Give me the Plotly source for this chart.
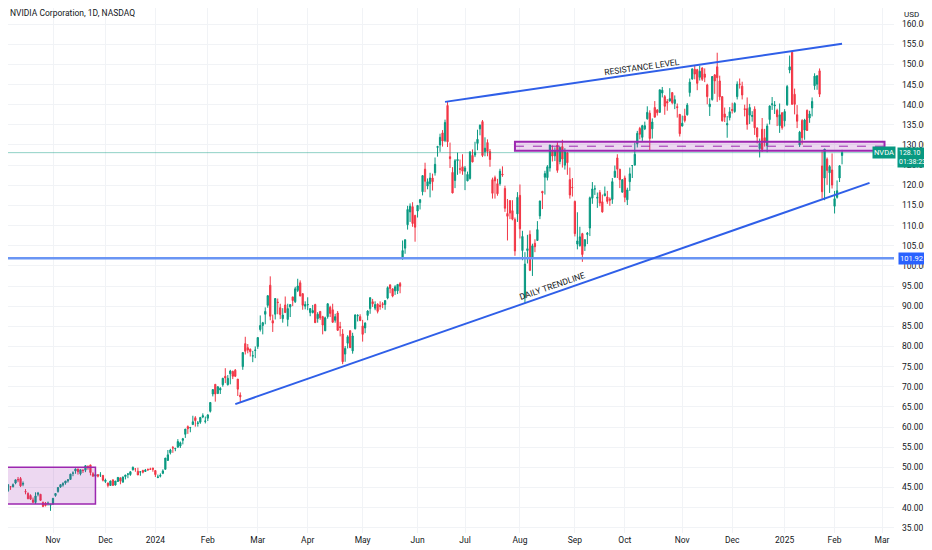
import pandas as pd
import plotly.graph_objects as go

# NVDA daily candles, Oct 2023 .. 6 Feb 2025 (one row per month)
HOLIDAYS = ["2023-11-23", "2023-12-25", "2024-01-01", "2024-01-15", "2024-02-19",
            "2024-03-29", "2024-05-27", "2024-06-19", "2024-07-04", "2024-09-02",
            "2024-11-28", "2024-12-25", "2025-01-01", "2025-01-09", "2025-01-20",
            "2025-02-17"]

open_ = [
    44.0, 44.4, 43.7, 44.0, 44.2, 45.2, 45.2, 46.1, 47.0, 47.2, 45.8, 44.0, 43.5, 43.0, 41.9, 41.3, 43.3, 43.3, 41.3, 41.1, 41.0, 40.6,
    40.9, 43.0, 44.0, 45.1, 45.6, 46.1, 46.6, 47.0, 48.5, 49.1, 49.6, 48.4, 49.3, 49.3, 50.2, 50.6, 48.4, 47.8, 48.2, 48.1, 48.0,
    46.5, 46.1, 45.5, 46.9, 45.6, 46.5, 47.4, 46.3, 47.7, 48.3, 48.2, 49.4, 49.6, 49.0, 48.8, 49.2, 48.97, 49.5, 49.6, 49.8,
    49.2, 47.5, 47.8, 48.5, 49.5, 51.7, 53.6, 54.9, 54.6, 55.0, 55.3, 56.7, 58.2, 60.1, 59.8, 60.6, 62.3, 60.9, 61.2, 62.5, 61.4,
    62.2, 63.9, 68.2, 70.6, 68.3, 69.2, 70.5, 72.6, 70.5, 73.2, 73.8, 74.1, 71.9, 67.9, 75.0, 80.7, 79.7, 79.3, 77.6, 79.0,
    80.0, 84.2, 85.2, 88.0, 90.2, 95.2, 86.4, 88.0, 91.0, 89.6, 86.9, 90.3, 86.7, 89.8, 92.3, 91.1, 93.9, 95.8, 93.1, 90.0,
    90.3, 88.4, 88.4, 90.4, 86.9, 88.7, 87.4, 83.9, 87.4, 89.7, 89.1, 86.5, 88.3, 84.9, 83.1, 78.1, 80.8, 83.9, 78.9, 84.4, 87.6, 87.4,
    85.1, 84.6, 87.7, 89.4, 91.1, 89.5, 90.5, 90.2, 90.6, 90.4, 92.0, 95.3, 94.3, 93.8, 93.8, 95.6, 102.0, 104.4, 110.2, 113.4, 114.7, 112.5,
    113.6, 115.7, 118.4, 124.0, 119.8, 120.4, 121.8, 123.1, 129.4, 130.0, 133.0, 131.1, 139.8, 127.1, 123.2, 121.2, 126.1, 124.1, 124.6,
    123.5, 121.1, 121.7, 127.4, 127.5, 130.4, 134.0, 135.8, 128.3, 130.6, 128.4, 121.4, 121.9, 120.4, 120.4, 122.8, 119.2, 113.0, 116.2, 113.7, 111.5, 112.9,
    117.5, 103.8, 92.1, 103.8, 107.8, 102.0, 105.6, 106.3, 112.4, 118.5, 122.0, 121.9, 124.3, 128.4, 127.3, 130.0, 125.9, 129.6, 125.0, 128.1, 121.4, 119.5,
    116.0, 105.4, 105.0, 108.0, 104.9, 107.8, 109.4, 116.8, 119.1, 116.8, 118.2, 115.9, 117.4, 117.1, 116.6, 116.5, 122.0, 126.8, 124.0, 118.3,
    121.8, 116.4, 120.9, 124.9, 125.0, 130.3, 134.1, 131.9, 134.0, 136.5, 137.9, 134.0, 139.3, 138.7, 138.1, 142.9, 142.0, 140.8, 140.9, 143.0, 140.3, 139.5, 137.6,
    134.7, 137.2, 137.5, 143.0, 146.4, 148.8, 148.7, 146.8, 149.1, 147.6, 144.9, 139.5, 141.3, 147.4, 149.4, 145.9, 142.0, 137.7, 135.0, 136.8,
    138.8, 138.3, 142.0, 145.1, 144.6, 139.0, 139.0, 137.4, 137.1, 138.9, 134.2, 129.1, 133.9, 131.8, 129.8, 136.3, 140.0, 139.7, 138.6, 134.8, 138.0,
    136.0, 140.0, 148.6, 153.0, 142.6, 137.5, 130.0, 136.1, 133.7, 138.6, 136.7, 139.2, 144.7, 145.1, 148.4, 124.8, 121.8, 126.5, 123.1, 123.8,
    114.8, 117.0, 121.8, 127.4,
]
high = [
    44.9, 44.6, 44.1, 45.2, 45.8, 45.3, 46.0, 46.9, 47.6, 47.6, 46.5, 44.6, 43.8, 43.3, 42.5, 43.8, 43.9, 43.4, 41.5, 41.4, 41.5, 40.9,
    42.4, 43.6, 45.0, 45.8, 46.3, 46.6, 47.1, 48.4, 49.0, 49.7, 49.6, 49.4, 49.5, 50.5, 50.5, 50.6, 48.8, 48.5, 48.2, 48.8, 48.1,
    47.2, 46.2, 46.7, 46.9, 46.6, 47.6, 47.4, 47.7, 48.1, 48.6, 49.0, 50.2, 49.7, 49.9, 48.9, 49.4, 49.6, 49.7, 49.9, 49.9,
    49.3, 48.2, 48.5, 49.5, 52.3, 54.3, 54.6, 55.3, 54.8, 57.0, 56.4, 57.3, 59.5, 60.4, 60.0, 62.8, 62.7, 61.5, 62.4, 63.4, 62.6,
    63.2, 66.2, 69.4, 70.6, 70.1, 69.9, 72.2, 74.6, 72.9, 74.2, 74.0, 74.4, 71.9, 68.6, 78.5, 82.4, 80.6, 79.5, 78.9, 80.0,
    82.3, 87.7, 86.1, 89.7, 92.7, 97.4, 87.9, 92.0, 91.9, 90.6, 89.5, 92.4, 90.6, 90.4, 92.3, 94.8, 96.8, 96.4, 93.2, 91.2,
    92.2, 89.5, 90.3, 90.6, 88.5, 88.7, 87.6, 87.4, 90.7, 90.1, 90.6, 88.1, 88.8, 86.1, 84.3, 80.1, 82.8, 84.0, 83.4, 88.0, 88.0, 88.0,
    86.6, 86.0, 89.0, 92.2, 91.8, 91.2, 90.7, 91.2, 91.0, 91.4, 94.9, 95.3, 94.4, 95.2, 95.4, 96.0, 106.3, 106.5, 114.9, 115.5, 115.8, 112.7,
    115.0, 116.6, 122.4, 125.6, 121.7, 123.1, 122.9, 126.9, 129.8, 132.8, 133.7, 136.3, 140.8, 130.6, 124.5, 126.5, 128.1, 126.4, 127.7,
    124.8, 123.4, 128.3, 128.9, 130.8, 133.8, 135.1, 136.2, 131.9, 131.4, 129.0, 121.9, 122.4, 121.6, 124.1, 124.7, 119.9, 116.6, 116.2, 116.3, 112.0, 118.3,
    120.2, 108.7, 103.4, 107.7, 108.8, 105.5, 106.6, 111.1, 116.2, 118.6, 123.6, 125.0, 130.0, 129.9, 129.4, 130.8, 129.6, 131.3, 129.2, 128.3, 124.4, 121.8,
    116.2, 113.3, 109.7, 108.2, 106.6, 108.4, 117.2, 120.8, 120.0, 118.2, 118.8, 117.7, 119.7, 118.6, 117.0, 121.8, 124.9, 127.7, 124.0, 121.5,
    122.4, 119.4, 124.4, 125.0, 130.6, 133.5, 134.5, 135.0, 135.8, 139.6, 138.6, 136.6, 140.9, 138.9, 143.7, 144.4, 142.4, 141.4, 144.1, 143.1, 142.3, 140.3, 137.6,
    137.3, 139.0, 140.4, 146.5, 148.9, 149.8, 148.9, 149.7, 149.3, 149.0, 145.2, 141.6, 147.1, 147.6, 152.9, 147.2, 142.1, 139.3, 137.2, 139.4,
    140.5, 140.6, 145.8, 146.5, 145.7, 140.0, 141.8, 140.2, 138.4, 139.6, 134.4, 131.6, 136.7, 134.0, 135.3, 139.8, 141.9, 140.9, 139.0, 140.3, 138.1,
    138.9, 144.9, 152.2, 153.1, 144.0, 139.9, 133.5, 136.4, 136.5, 138.8, 138.5, 141.8, 147.8, 147.2, 149.0, 128.4, 129.0, 126.9, 125.0, 127.9,
    118.6, 121.2, 125.0, 128.8,
]
low = [
    43.5, 43.1, 43.1, 43.8, 43.9, 44.4, 45.0, 45.8, 46.3, 45.1, 45.3, 43.3, 42.1, 41.9, 41.3, 40.9, 42.8, 41.7, 40.1, 40.3, 40.5, 39.2,
    40.7, 42.7, 43.7, 44.9, 45.2, 45.7, 46.2, 46.9, 47.8, 48.4, 48.2, 48.0, 48.6, 48.8, 49.4, 48.0, 47.7, 47.6, 47.5, 47.6, 46.5,
    46.1, 45.0, 45.4, 45.5, 45.5, 46.4, 45.8, 46.3, 47.0, 47.3, 47.9, 49.2, 48.9, 48.1, 47.9, 48.5, 48.96, 49.1, 49.4, 48.9,
    47.6, 47.3, 47.5, 48.3, 49.5, 51.7, 53.2, 53.6, 54.0, 54.9, 54.8, 55.7, 57.3, 58.3, 58.7, 60.6, 60.1, 60.1, 60.8, 62.2, 60.9,
    61.5, 63.6, 67.6, 66.3, 68.3, 68.2, 70.0, 70.9, 70.3, 70.6, 71.9, 72.4, 67.7, 66.2, 74.2, 78.0, 78.3, 77.5, 76.1, 77.1,
    79.4, 83.7, 83.0, 85.5, 89.6, 86.5, 83.6, 86.7, 88.0, 86.8, 85.9, 88.4, 85.0, 87.3, 90.0, 90.8, 93.5, 92.5, 89.1, 89.2,
    89.0, 87.5, 88.2, 85.9, 85.9, 86.6, 83.0, 83.8, 86.9, 87.3, 85.9, 85.9, 83.9, 82.5, 75.6, 76.2, 79.5, 79.6, 78.2, 84.2, 86.2, 86.3,
    81.2, 83.3, 86.5, 88.1, 89.8, 89.0, 88.2, 89.1, 89.5, 89.1, 91.7, 93.2, 92.2, 92.8, 93.0, 93.2, 101.5, 103.0, 109.0, 110.9, 109.7, 106.0,
    112.0, 114.0, 117.5, 118.3, 119.0, 117.0, 118.7, 122.4, 127.1, 128.3, 129.6, 130.7, 129.5, 124.3, 118.0, 119.3, 122.6, 122.9, 122.6,
    118.8, 121.0, 121.4, 125.7, 127.0, 128.7, 132.4, 127.0, 127.2, 127.2, 124.6, 116.7, 116.7, 117.4, 119.9, 122.1, 113.4, 106.3, 111.6, 111.3, 102.5, 110.9,
    106.8, 101.4, 90.7, 100.6, 98.7, 97.5, 103.4, 106.3, 111.6, 114.1, 117.7, 121.2, 123.4, 125.9, 126.0, 123.1, 125.2, 124.4, 123.9, 122.6, 116.7, 117.2,
    107.3, 104.1, 104.8, 101.0, 103.7, 105.4, 107.4, 115.4, 117.6, 114.4, 114.8, 113.2, 117.3, 115.4, 114.9, 115.4, 121.9, 121.8, 119.3, 118.2,
    115.8, 115.1, 118.6, 121.8, 125.0, 129.4, 131.4, 131.0, 133.7, 136.3, 128.7, 131.6, 136.9, 137.3, 138.0, 141.8, 137.5, 138.5, 140.8, 140.1, 138.9, 136.8, 132.1,
    134.6, 135.6, 137.3, 142.0, 146.2, 146.3, 143.6, 146.0, 145.9, 145.6, 140.1, 137.2, 141.0, 142.7, 140.7, 141.1, 135.8, 135.7, 131.8, 136.1,
    137.8, 138.0, 141.3, 144.0, 141.3, 137.1, 133.8, 135.2, 135.8, 132.5, 130.4, 126.9, 128.3, 129.6, 128.2, 135.1, 138.7, 137.7, 134.7, 133.0, 133.8,
    134.6, 139.7, 147.8, 140.0, 137.6, 134.2, 129.5, 130.1, 131.3, 133.5, 135.5, 137.1, 143.7, 143.7, 141.9, 116.7, 116.3, 120.1, 118.1, 119.2,
    113.0, 116.7, 120.8, 125.2,
]
close = [
    44.75, 43.5, 44.0, 44.6, 45.7, 45.2, 45.7, 46.9, 46.9, 45.4, 46.0, 43.9, 42.2, 42.1, 41.3, 42.9, 43.6, 41.8, 40.3, 40.5, 41.1, 40.8,
    42.3, 43.5, 45.0, 45.7, 45.96, 46.6, 46.9, 48.3, 48.6, 49.6, 48.9, 49.4, 49.2, 50.4, 49.9, 48.7, 47.8, 48.2, 47.8, 48.1, 46.8,
    46.8, 45.5, 46.6, 45.5, 46.6, 47.5, 46.6, 47.6, 48.1, 48.3, 48.9, 50.0, 49.6, 48.1, 48.9, 48.8, 49.3, 49.4, 49.5, 49.5,
    48.2, 47.6, 48.0, 49.1, 52.3, 53.1, 54.3, 54.8, 54.7, 56.4, 56.1, 57.1, 59.5, 59.6, 59.9, 61.3, 61.6, 61.0, 62.4, 62.8, 61.5,
    63.0, 66.1, 69.3, 68.2, 70.0, 69.6, 72.1, 72.2, 72.1, 73.9, 72.6, 72.6, 69.4, 67.5, 78.5, 78.8, 79.1, 78.7, 77.7, 79.1,
    82.2, 85.2, 85.9, 88.7, 92.6, 87.5, 85.8, 91.9, 90.9, 87.9, 87.8, 88.4, 89.4, 90.4, 91.4, 94.3, 95.0, 92.5, 90.2, 90.4,
    90.4, 89.4, 88.9, 85.9, 88.0, 87.1, 85.3, 87.1, 90.6, 88.2, 86.0, 87.4, 84.0, 84.7, 76.2, 79.5, 82.4, 79.7, 82.6, 87.8, 87.7, 86.4,
    83.0, 85.8, 88.8, 92.1, 90.6, 90.4, 88.7, 89.9, 90.4, 91.4, 94.6, 94.4, 92.5, 94.8, 95.4, 94.95, 103.8, 106.5, 114.0, 114.8, 110.5, 109.6,
    115.0, 116.4, 122.4, 121.0, 120.9, 121.8, 120.9, 125.2, 129.6, 131.9, 131.0, 135.6, 130.8, 126.6, 118.1, 126.1, 126.4, 124.0, 123.5,
    124.3, 122.7, 128.3, 125.8, 128.2, 131.4, 134.9, 127.4, 129.2, 128.4, 126.4, 118.0, 121.1, 117.9, 123.5, 122.6, 114.3, 112.3, 113.1, 111.6, 103.7, 117.0,
    109.2, 107.3, 100.45, 104.25, 98.9, 104.97, 104.75, 109.0, 116.1, 118.1, 122.9, 124.6, 130.0, 127.25, 128.5, 123.7, 129.4, 126.5, 128.3, 125.6, 117.6, 119.4,
    108.0, 106.2, 107.2, 102.8, 106.5, 108.1, 116.9, 119.1, 119.1, 117.0, 115.6, 113.4, 117.9, 116.0, 116.3, 120.9, 123.5, 124.0, 121.4, 121.4,
    117.0, 118.85, 122.85, 124.9, 127.7, 132.9, 132.65, 134.8, 134.8, 138.1, 131.6, 135.7, 136.9, 138.0, 143.7, 143.6, 139.6, 140.4, 141.5, 140.5, 141.25, 139.3, 132.8,
    135.4, 136.05, 139.9, 145.6, 148.9, 147.6, 145.3, 148.3, 146.3, 146.8, 142.0, 140.15, 147.0, 145.9, 146.7, 141.95, 136.0, 136.9, 135.3, 138.25,
    138.6, 140.3, 145.1, 145.06, 142.4, 138.8, 135.1, 139.3, 137.3, 134.25, 132.0, 130.4, 128.9, 130.7, 134.7, 139.7, 140.2, 139.9, 137.0, 137.5, 134.3,
    138.3, 144.5, 149.4, 140.1, 140.1, 135.9, 133.2, 131.8, 136.2, 133.6, 137.7, 140.8, 147.1, 147.2, 142.6, 118.4, 129.0, 123.7, 124.65, 120.07,
    116.66, 118.65, 124.83, 128.1,
]

last_price = 128.10
countdown = "01:38:23"
support_level = 101.92

# drawings: (date, price)
resistance_line = [("2024-06-18", 140.7), ("2025-02-06", 155.1)]
trend_line = [("2024-02-16", 65.7), ("2025-02-24", 120.6)]
left_box = ("2023-09-20", "2023-11-27", 40.9, 50.0)
zone = ("2024-07-30", "2025-03-04", 128.6, 130.8)

n = len(close)
assert len(open_) == len(high) == len(low) == n, (len(open_), len(high), len(low), n)

days = pd.bdate_range("2023-10-02", "2025-03-31", freq="C", holidays=HOLIDAYS)
pos = {d.strftime("%Y-%m-%d"): i for i, d in enumerate(days)}
pos["2023-09-20"] = -8


def px(d):
    return pos[d]


tickvals, ticktext = [], []
prev = days[0].month
for i, d in enumerate(days):
    if d.month != prev:
        tickvals.append(i)
        ticktext.append(str(d.year) if d.month == 1 else d.strftime("%b"))
    prev = d.month

FONT = "Roboto, Liberation Sans, Arial"
TXT = "#131722"
BLUE = "#2f5fe8"
PURPLE = "#9c27b0"

W, H, R = 924, 542, 38

fig = go.Figure()
fig.add_trace(go.Candlestick(
    x=list(range(n)), open=open_, high=high, low=low, close=close,
    increasing=dict(line=dict(color="#089981", width=1), fillcolor="#089981"),
    decreasing=dict(line=dict(color="#F23645", width=1), fillcolor="#F23645"),
    whiskerwidth=0, hoverinfo="skip", showlegend=False))

# price line and horizontal support
fig.add_shape(type="line", xref="paper", x0=0, x1=1, y0=last_price, y1=last_price,
              line=dict(color="rgba(8,153,129,0.45)", width=1), layer="above")
fig.add_shape(type="line", xref="paper", x0=0, x1=1, y0=support_level, y1=support_level,
              line=dict(color="#6a95f4", width=2.5), layer="above")

# boxes
fig.add_shape(type="rect", x0=px(left_box[0]), x1=px(left_box[1]), y0=left_box[2], y1=left_box[3],
              line=dict(color=PURPLE, width=1.5), fillcolor="rgba(156,39,176,0.18)", layer="above")
fig.add_shape(type="rect", x0=px(zone[0]), x1=px(zone[1]), y0=zone[2], y1=zone[3],
              line=dict(color=PURPLE, width=2), fillcolor="rgba(156,39,176,0.18)", layer="above")
mid = (zone[2] + zone[3]) / 2
fig.add_shape(type="line", x0=px(zone[0]), x1=px(zone[1]), y0=mid, y1=mid,
              line=dict(color=PURPLE, width=1, dash="dash"), layer="above")

# trend lines
for (d0, p0), (d1, p1) in (resistance_line, trend_line):
    fig.add_shape(type="line", x0=px(d0), y0=p0, x1=px(d1), y1=p1,
                  line=dict(color=BLUE, width=2), layer="above")

fig.add_annotation(x=px("2024-10-10"), y=149.4, text="RESISTANCE LEVEL", showarrow=False,
                   textangle=-8, font=dict(size=8.5, color=TXT, family=FONT))
fig.add_annotation(x=px("2024-08-20"), y=95.0, text="DAILY TRENDLINE", showarrow=False,
                   textangle=-19, font=dict(size=8.5, color=TXT, family=FONT))

# header / axis badges
fig.add_annotation(xref="paper", yref="paper", x=0, y=1, xanchor="left", yanchor="top",
                   xshift=0, yshift=2, text="NVIDIA Corporation, 1D, NASDAQ", showarrow=False,
                   font=dict(size=8.5, color=TXT, family=FONT))
fig.add_annotation(xref="paper", yref="paper", x=1, y=1, xanchor="left", yanchor="top",
                   xshift=8, yshift=0, text="USD", showarrow=False,
                   font=dict(size=8, color=TXT, family=FONT))
fig.add_annotation(xref="paper", y=last_price, x=1, xanchor="right", xshift=2,
                   text="NVDA", showarrow=False, bgcolor="#089981", borderpad=1,
                   font=dict(size=7.5, color="white", family=FONT))
fig.add_annotation(xref="paper", y=last_price, x=1, xanchor="left", yanchor="top", xshift=3,
                   yshift=6, text=f"{last_price:.2f}<br>{countdown}", showarrow=False, align="left",
                   bgcolor="#089981", borderpad=1, font=dict(size=7, color="white", family=FONT))
fig.add_annotation(xref="paper", y=support_level, x=1, xanchor="left", xshift=4,
                   text=f"{support_level:.2f}", showarrow=False, bgcolor="#2962FF", borderpad=1,
                   font=dict(size=7.5, color="white", family=FONT))

# the page puts the figure 8px in from the top-left, so the figure is 8px smaller
fig.update_layout(
    width=W, height=H,
    margin=dict(l=0, r=R, t=0, b=17),
    plot_bgcolor="white", paper_bgcolor="white",
    font=dict(family=FONT, size=8.5, color=TXT),
    showlegend=False,
    xaxis=dict(range=[3.98, 358.8], tickvals=tickvals, ticktext=ticktext,
               showgrid=True, gridcolor="#f1f3f6", zeroline=False, showline=False,
               rangeslider=dict(visible=False), ticks="", tickfont=dict(size=8.5, color=TXT)),
    yaxis=dict(side="right", range=[33.7, 164.0], dtick=5, tick0=0, tickformat=".2f",
               showgrid=True, gridcolor="#f1f3f6", zeroline=False, showline=False,
               ticks="", ticklabelstandoff=7, tickfont=dict(size=8.5, color=TXT)),
)

fig.write_html("out.html")
